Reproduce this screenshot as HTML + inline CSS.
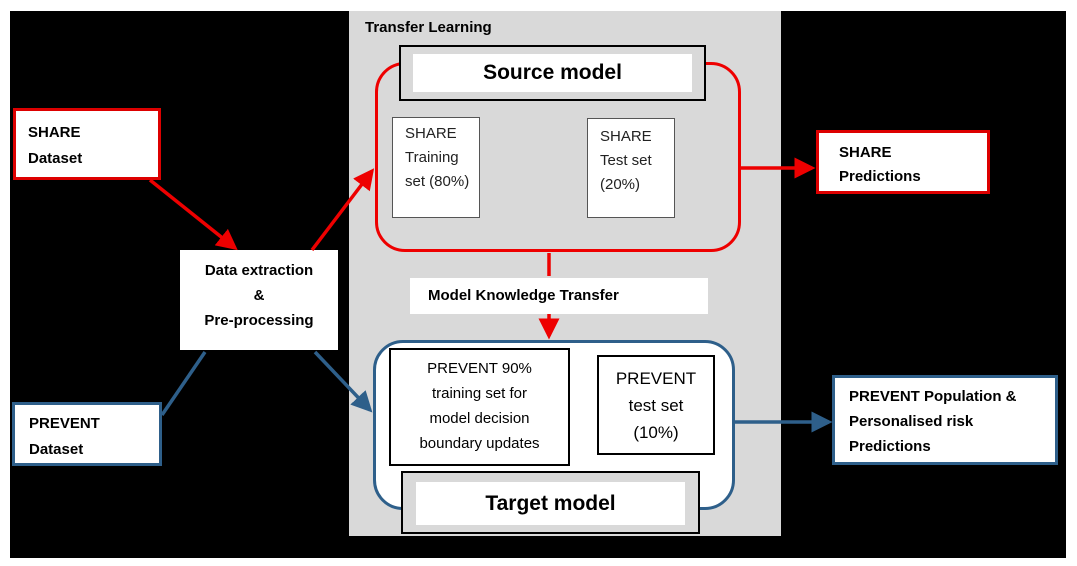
<!DOCTYPE html>
<html><head><meta charset="utf-8"><style>
body{margin:0;width:1077px;height:566px;background:#fff;position:relative;font-family:"Liberation Sans",sans-serif;overflow:hidden}
.a{position:absolute;box-sizing:border-box}
.w{background:#fff}
.t{font-size:15px;line-height:24px}
.b{font-weight:bold}
</style></head><body>
<div class="a" style="left:10px;top:11px;width:1056px;height:547px;background:#000"></div>
<div class="a" style="left:349px;top:11px;width:432px;height:525px;background:#d9d9d9"></div>
<div class="a b" style="left:365px;top:19px;font-size:15px">Transfer Learning</div>
<div class="a" style="left:375px;top:62px;width:366px;height:190px;border:3px solid #e00;border-radius:30px"></div>
<div class="a" style="left:373px;top:340px;width:362px;height:170px;border:3px solid #2e5f8a;border-radius:30px;background:#fff"></div>
<div class="a" style="left:399px;top:45px;width:307px;height:56px;border:2px solid #000;background:#d9d9d9;padding:7px 12px"><div class="w b" style="height:38px;text-align:center;font-size:21px;line-height:38px">Source model</div></div>
<div class="a w t" style="left:392px;top:117px;width:88px;height:101px;border:1px solid #555;padding:4px 0 0 12px;color:#222">SHARE<br>Training<br>set (80%)</div>
<div class="a w t" style="left:587px;top:118px;width:88px;height:100px;border:1px solid #555;padding:6px 0 0 12px;color:#222">SHARE<br>Test set<br>(20%)</div>
<div class="a w b" style="left:410px;top:278px;width:298px;height:36px;font-size:15px;line-height:36px;padding-left:18px">Model Knowledge Transfer</div>
<div class="a w t" style="left:389px;top:348px;width:181px;height:118px;border:2px solid #000;text-align:center;padding-top:6px;line-height:25px">PREVENT 90%<br>training set for<br>model decision<br>boundary updates</div>
<div class="a w" style="left:597px;top:355px;width:118px;height:100px;border:2px solid #000;text-align:center;padding-top:8px;font-size:17px;line-height:27px">PREVENT<br>test set<br>(10%)</div>
<div class="a" style="left:401px;top:471px;width:299px;height:63px;border:2px solid #000;background:#d9d9d9;padding:9px 13px"><div class="w b" style="height:43px;text-align:center;font-size:21px;line-height:43px">Target model</div></div>
<div class="a w b t" style="left:13px;top:108px;width:148px;height:72px;border:3px solid #d00;padding:9px 0 0 12px;line-height:26px">SHARE<br>Dataset</div>
<div class="a w b t" style="left:180px;top:250px;width:158px;height:100px;text-align:center;padding-top:8px;line-height:25px">Data extraction<br>&amp;<br>Pre-processing</div>
<div class="a w b t" style="left:12px;top:402px;width:150px;height:64px;border:3px solid #2e5f8a;padding:6px 0 0 14px;line-height:26px">PREVENT<br>Dataset</div>
<div class="a w b t" style="left:816px;top:130px;width:174px;height:64px;border:3px solid #d00;padding:8px 0 0 20px;line-height:24px">SHARE<br>Predictions</div>
<div class="a w b t" style="left:832px;top:375px;width:226px;height:90px;border:3px solid #2e5f8a;padding:6px 0 0 14px;line-height:25px">PREVENT Population &amp;<br>Personalised risk<br>Predictions</div>
<svg class="a" style="left:0;top:0" width="1077" height="566">
<defs>
<marker id="r" markerWidth="6" markerHeight="6" refX="5" refY="3" orient="auto"><path d="M0,0L6,3L0,6z" fill="#e00"/></marker>
<marker id="bl" markerWidth="6" markerHeight="6" refX="5" refY="3" orient="auto"><path d="M0,0L6,3L0,6z" fill="#2e5f8a"/></marker>
</defs>
<g stroke-width="3.5" fill="none">
<line x1="150" y1="180" x2="235" y2="248" stroke="#e00" marker-end="url(#r)"/>
<line x1="312" y1="250" x2="372" y2="171" stroke="#e00" marker-end="url(#r)"/>
<line x1="549" y1="253" x2="549" y2="276" stroke="#e00"/>
<line x1="549" y1="314" x2="549" y2="336" stroke="#e00" marker-end="url(#r)"/>
<line x1="741" y1="168" x2="812" y2="168" stroke="#e00" marker-end="url(#r)"/>
<line x1="162" y1="415" x2="205" y2="352" stroke="#2e5f8a"/>
<line x1="315" y1="352" x2="370" y2="410" stroke="#2e5f8a" marker-end="url(#bl)"/>
<line x1="735" y1="422" x2="829" y2="422" stroke="#2e5f8a" marker-end="url(#bl)"/>
</g></svg>
</body></html>
